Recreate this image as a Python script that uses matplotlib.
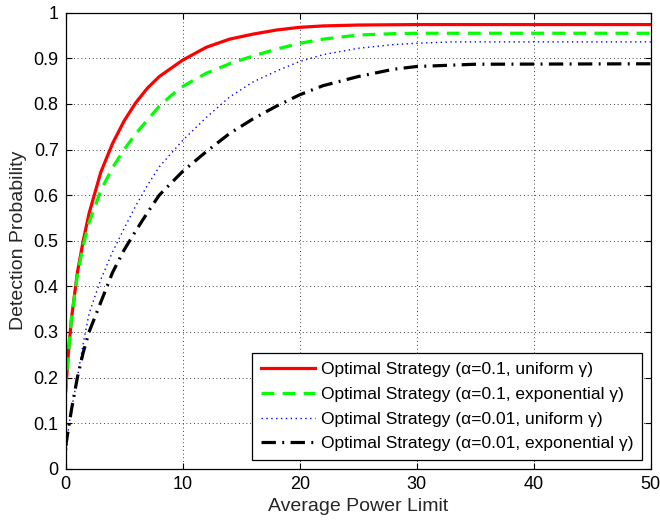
import matplotlib
matplotlib.use("Agg")
import matplotlib.pyplot as plt

plt.rcParams['font.family'] = ['Liberation Sans', 'DejaVu Sans']

x_red = [0, 0.25, 0.5, 1, 1.5, 2, 3, 4, 5, 6, 7, 8, 10, 12, 14, 16, 18, 20, 22, 25, 30, 50]
y_red = [0.17, 0.26, 0.33, 0.43, 0.50, 0.56, 0.65, 0.713, 0.763, 0.803, 0.835, 0.86, 0.896, 0.924,
         0.942, 0.953, 0.962, 0.968, 0.971, 0.973, 0.974, 0.974]

x_green = [0, 0.25, 0.5, 1, 1.5, 2, 3, 4, 5, 6, 7, 8, 9, 10, 11, 12, 14, 16, 18, 20, 22, 25, 28, 30, 50]
y_green = [0.17, 0.26, 0.33, 0.425, 0.49, 0.54, 0.61, 0.66, 0.70, 0.735, 0.765, 0.795, 0.818, 0.838,
           0.853, 0.867, 0.888, 0.905, 0.92, 0.933, 0.942, 0.951, 0.954, 0.955, 0.955]

x_blue = [0, 0.25, 0.5, 1, 1.5, 2, 3, 4, 5, 6, 7, 8, 10, 12, 14, 16, 18, 20, 22, 25, 28, 30, 33, 50]
y_blue = [0.02, 0.09, 0.13, 0.20, 0.275, 0.34, 0.415, 0.475, 0.527, 0.577, 0.622, 0.662, 0.72, 0.77,
          0.815, 0.848, 0.872, 0.893, 0.908, 0.922, 0.93, 0.933, 0.936, 0.936]

x_black = [0, 0.25, 0.5, 1, 1.5, 2, 3, 4, 5, 6, 7, 8, 10, 12, 14, 16, 18, 20, 22, 25, 28, 30, 35, 50]
y_black = [0.05, 0.09, 0.13, 0.20, 0.255, 0.30, 0.365, 0.43, 0.48, 0.522, 0.562, 0.60, 0.652, 0.695,
           0.735, 0.767, 0.795, 0.82, 0.84, 0.86, 0.876, 0.882, 0.887, 0.888]

labels = [
    "Optimal Strategy (α=0.1, uniform γ)",
    "Optimal Strategy (α=0.1, exponential γ)",
    "Optimal Strategy (α=0.01, uniform γ)",
    "Optimal Strategy (α=0.01, exponential γ)",
]
x_ticks = [0, 10, 20, 30, 40, 50]
y_ticks = [0, 0.1, 0.2, 0.3, 0.4, 0.5, 0.6, 0.7, 0.8, 0.9, 1]
y_tick_labels = ["0", "0.1", "0.2", "0.3", "0.4", "0.5", "0.6", "0.7", "0.8", "0.9", "1"]

fig = plt.figure(figsize=(6.6, 5.23), dpi=100)
ax = fig.add_axes([0.0995, 0.1038, 0.8865, 0.8719])

ax.plot(x_red, y_red, color='#ff0000', lw=2.3, ls='-', label=labels[0])
ax.plot(x_green, y_green, color='#00ff00', lw=2.3, ls=(0, (4, 2.6)), label=labels[1])
ax.plot(x_blue, y_blue, color='#0000ff', lw=1.0, ls=(0, (1, 2.5)), label=labels[2])
ax.plot(x_black, y_black, color='black', lw=2.3, ls=(0, (4.5, 2, 0.6, 2)), label=labels[3])

ax.set_xlim(0, 50)
ax.set_ylim(0, 1)
ax.set_xticks(x_ticks)
ax.set_yticks(y_ticks)
ax.set_yticklabels(y_tick_labels)
ax.tick_params(direction='in', top=True, right=True, labelsize=13, length=4, width=0.8, pad=5)
ax.grid(True, color='black', ls=(0, (1, 3.5)), lw=0.6)
for s in ax.spines.values():
    s.set_linewidth(0.9)

ax.set_xlabel("Average Power Limit", fontsize=14, color='#262626', labelpad=4)
ax.set_ylabel("Detection Probability", fontsize=14, color='#262626', labelpad=5)

leg = ax.legend(loc='lower right', fontsize=12.5, fancybox=False, framealpha=1,
                edgecolor='black', handlelength=3.1, handletextpad=0.35,
                borderaxespad=0.5, labelspacing=0.55, borderpad=0.5)
leg.get_frame().set_linewidth(0.9)

fig.savefig("out.png", dpi=100)
